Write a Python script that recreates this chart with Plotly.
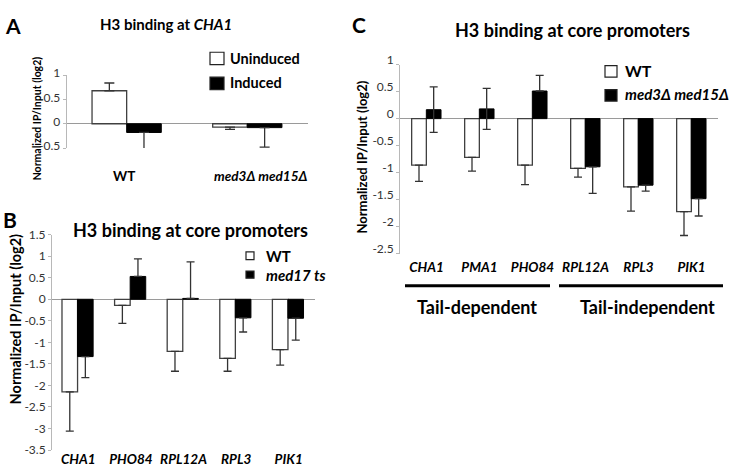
import plotly.graph_objects as go

# ---------------- data ----------------
A_categories = ["WT", "med3Δ med15Δ"]
A_uninduced = [0.68, -0.07]
A_uninduced_err = [0.16, 0.045]
A_induced = [-0.18, -0.08]
A_induced_err = [0.35, 0.40]
A_yticks = [-0.5, 0, 0.5, 1]
A_yticklabels = ["-0.5", "0", "0.5", "1"]

B_genes = ["CHA1", "PHO84", "RPL12A", "RPL3", "PIK1"]
B_wt = [-2.15, -0.14, -1.21, -1.37, -1.17]
B_wt_err = [0.91, 0.42, 0.46, 0.30, 0.36]
B_med17 = [-1.33, 0.53, 0.02, -0.43, -0.44]
B_med17_err = [0.49, 0.41, 0.85, 0.33, 0.51]
B_yticks = [-3.5, -3, -2.5, -2, -1.5, -1, -0.5, 0, 0.5, 1, 1.5]
B_yticklabels = ["-3.5", "-3", "-2.5", "-2", "-1.5", "-1", "-0.5", "0", "0.5", "1", "1.5"]

C_genes = ["CHA1", "PMA1", "PHO84", "RPL12A", "RPL3", "PIK1"]
C_wt = [-0.86, -0.715, -0.86, -0.92, -1.26, -1.72]
C_wt_err = [0.30, 0.255, 0.36, 0.16, 0.45, 0.44]
C_mut = [0.165, 0.18, 0.51, -0.89, -1.23, -1.48]
C_mut_err_up = [0.42, 0.38, 0.29, 0, 0, 0]
C_mut_err_down = [0.42, 0.38, 0, 0.49, 0.11, 0.32]
C_yticks = [-2.5, -2, -1.5, -1, -0.5, 0, 0.5, 1]
C_yticklabels = ["-2.5", "-2", "-1.5", "-1", "-0.5", "0", "0.5", "1"]

W, H = 745, 470
FONT = "Lato"


def px(x):
    return x / W


def py(y):
    return 1 - y / H


def outward(vals, errs):
    up = [e if v >= 0 else 0 for v, e in zip(vals, errs)]
    down = [e if v < 0 else 0 for v, e in zip(vals, errs)]
    return up, down


def err(up, down, w):
    return dict(type="data", symmetric=False, array=up, arrayminus=down,
                color="#333333", thickness=1.3, width=w)


fig = go.Figure()

WHITE = dict(color="white", line=dict(color="#404040", width=1.3))
BLACK = dict(color="black", line=dict(color="black", width=1))

# ---- Panel A ----
u, d = outward(A_uninduced, A_uninduced_err)
fig.add_trace(go.Bar(x=A_categories, y=A_uninduced, width=0.287, offset=-0.29,
                     marker=WHITE, error_y=err(u, d, 5), xaxis="x", yaxis="y",
                     showlegend=False, name="Uninduced"))
u, d = outward(A_induced, A_induced_err)
fig.add_trace(go.Bar(x=A_categories, y=A_induced, width=0.287, offset=-0.003,
                     marker=BLACK, error_y=err(u, d, 5), xaxis="x", yaxis="y",
                     showlegend=False, name="Induced"))

# ---- Panel B ----
u, d = outward(B_wt, B_wt_err)
fig.add_trace(go.Bar(x=B_genes, y=B_wt, width=0.296, offset=-0.31,
                     marker=WHITE, error_y=err(u, d, 4), xaxis="x2", yaxis="y2",
                     showlegend=False, name="WT"))
u, d = outward(B_med17, B_med17_err)
fig.add_trace(go.Bar(x=B_genes, y=B_med17, width=0.296, offset=-0.014,
                     marker=BLACK, error_y=err(u, d, 4), xaxis="x2", yaxis="y2",
                     showlegend=False, name="med17 ts"))

# ---- Panel C ----
u, d = outward(C_wt, C_wt_err)
fig.add_trace(go.Bar(x=C_genes, y=C_wt, width=0.277, offset=-0.28,
                     marker=WHITE, error_y=err(u, d, 4), xaxis="x3", yaxis="y3",
                     showlegend=False, name="WT"))
fig.add_trace(go.Bar(x=C_genes, y=C_mut, width=0.277, offset=-0.003,
                     marker=BLACK, error_y=err(C_mut_err_up, C_mut_err_down, 4),
                     xaxis="x3", yaxis="y3", showlegend=False, name="med3Δ med15Δ"))

tickfont = dict(family=FONT, size=12, color="#333333")
yaxis_common = dict(showline=True, linecolor="#b8b8b8", linewidth=1,
                    ticks="outside", ticklen=3, tickcolor="#b8b8b8",
                    showgrid=False, zeroline=True, zerolinecolor="#9a9a9a",
                    zerolinewidth=1.2, tickfont=tickfont, fixedrange=True)
xaxis_common = dict(showline=False, showgrid=False, zeroline=False, ticks="",
                    fixedrange=True)
xtickfont = dict(family=FONT, size=13.5, color="black", weight="bold",
                 style="italic")

fig.update_layout(
    width=W, height=H,
    margin=dict(l=0, r=0, t=0, b=0),
    paper_bgcolor="white", plot_bgcolor="white",
    font=dict(family=FONT, color="black"),
    barmode="overlay",
    xaxis=dict(domain=[px(66.7), px(308)], range=[-0.5, 1.5],
               showticklabels=False, anchor="y", **xaxis_common),
    yaxis=dict(domain=[py(141), py(65)], range=[-0.5, 1], anchor="x",
               tickvals=A_yticks, ticktext=A_yticklabels, ticklabelshift=-2,
               **yaxis_common),
    xaxis2=dict(domain=[px(52), px(315)], range=[-0.5, 4.5], anchor="y2",
                tickfont=xtickfont, ticklabelstandoff=-1, **xaxis_common),
    yaxis2=dict(domain=[py(456.5), py(231.5)], range=[-3.5, 1.5], anchor="x2",
                tickvals=B_yticks, ticktext=B_yticklabels, **yaxis_common),
    xaxis3=dict(domain=[px(400), px(718)], range=[-0.5, 5.5], anchor="y3",
                tickfont=xtickfont, ticklabelstandoff=4, **xaxis_common),
    yaxis3=dict(domain=[py(251.6), py(53.8)], range=[-2.5, 1], anchor="x3",
                tickvals=C_yticks, ticktext=C_yticklabels, ticklabelshift=-5,
                **yaxis_common),
)

ann = []


def text(x, y, s, size, bold=True, italic=False, xanchor="center",
         yanchor="middle", angle=0, color="black"):
    ann.append(dict(x=px(x), y=py(y), xref="paper", yref="paper", text=s,
                    showarrow=False, xanchor=xanchor, yanchor=yanchor,
                    textangle=angle,
                    font=dict(family=FONT, size=size, color=color,
                              weight="bold" if bold else "normal",
                              style="italic" if italic else "normal")))


# panel letters
text(3, 13, "A", 21, xanchor="left")
text(1, 216, "B", 21, xanchor="left")
text(350, 12, "C", 21, xanchor="left")

# titles
text(166, 11, "H3 binding at <i>CHA1</i>", 15)
text(190, 227, "H3 binding at core promoters", 18)
text(572, 18, "H3 binding at core promoters", 18)

# y titles
text(37, 110, "Normalized IP/Input (log2)", 10.5, angle=-90)
text(15, 320, "Normalized IP/Input (log2)", 14.5, angle=-90)
text(362, 151, "Normalized IP/Input (log2)", 13, angle=-90)

# Panel A category labels (below axis)
for i, (cat, dx) in enumerate(zip(A_categories, [-3, 13])):
    ann.append(dict(x=i, y=py(170), xref="x", yref="paper",
                    text=cat, showarrow=False, xanchor="center",
                    yanchor="middle", xshift=dx,
                    font=dict(family=FONT, size=13.5, color="black",
                              weight="bold",
                              style="normal" if i == 0 else "italic")))

# legends
shapes = []


def swatch(x0, y0, x1, y1, fill):
    shapes.append(dict(type="rect", xref="paper", yref="paper",
                       x0=px(x0), x1=px(x1), y0=py(y1), y1=py(y0),
                       fillcolor=fill, line=dict(color="#222222", width=1.2)))


swatch(210, 41, 224, 54, "white")
text(228, 48, "Uninduced", 14.5, xanchor="left")
swatch(210, 67, 224, 80, "black")
text(228, 73, "Induced", 14.5, xanchor="left")

swatch(246, 249.5, 254, 257.5, "white")
text(264, 253.5, "WT", 15, xanchor="left")
swatch(246, 269.5, 254, 277, "black")
text(264, 273.5, "med17 ts", 15, italic=True, xanchor="left")

swatch(605, 55, 617, 67, "white")
text(623, 60, "WT", 16, xanchor="left")
swatch(605, 80, 617, 92, "black")
text(623, 85, "med3Δ med15Δ", 15, italic=True, xanchor="left")

# group brackets in C
for x0, x1 in [(405, 550), (559, 723)]:
    shapes.append(dict(type="line", xref="paper", yref="paper",
                       x0=px(x0), x1=px(x1), y0=py(285), y1=py(285),
                       line=dict(color="black", width=3)))
text(477, 307, "Tail-dependent", 18)
text(647, 307, "Tail-independent", 18)

fig.update_layout(annotations=ann, shapes=shapes)
fig.write_html("out.html", config={"displayModeBar": False})

# remove default page margins so the figure sits at the window origin
with open("out.html", encoding="utf-8") as f:
    html = f.read()
html = html.replace("<head>", "<head><style>html,body{margin:0;padding:0;"
                    "overflow:hidden;}</style>", 1)
with open("out.html", "w", encoding="utf-8") as f:
    f.write(html)
